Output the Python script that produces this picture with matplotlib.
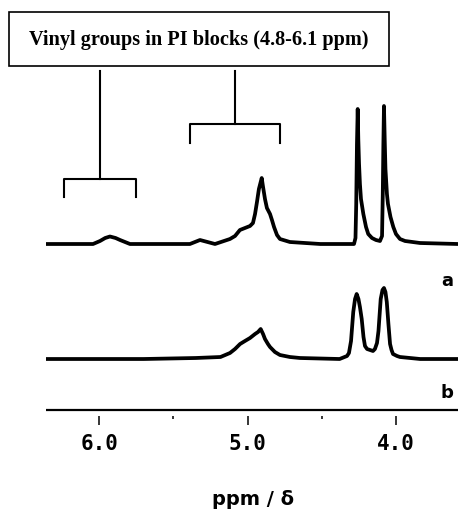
import numpy as np
import matplotlib.pyplot as plt
from matplotlib.patches import Rectangle

# spectrum a (ppm, intensity above baseline)
ppm_a = [6.359, 6.20, 6.042, 5.995, 5.96, 5.928, 5.89, 5.86, 5.793, 5.591,
         5.389, 5.321, 5.22, 5.119, 5.085, 5.052, 5.018, 4.984, 4.964, 4.950,
         4.937, 4.924, 4.905, 4.897, 4.883, 4.870, 4.849, 4.836, 4.822, 4.802,
         4.782, 4.715, 4.51, 4.283, 4.273, 4.268, 4.263, 4.258, 4.254, 4.249,
         4.243, 4.236, 4.220, 4.202, 4.187, 4.162, 4.135, 4.108, 4.094, 4.089,
         4.085, 4.081, 4.076, 4.071, 4.061, 4.054, 4.037, 4.018, 4.000, 3.973,
         3.939, 3.838, 3.582]
int_a = [0, 0, 0, 3, 6, 7.5, 6, 4, 0, 0,
         0, 4, 0, 5, 8, 14, 16, 18, 21, 30,
         42, 55, 66, 58, 45, 36, 30, 24, 17, 9,
         5, 2, 0, 0, 6, 40, 100, 135, 105, 80,
         60, 45, 30, 17, 10, 6, 4, 3, 8, 50,
         100, 138, 105, 75, 50, 40, 27, 17, 10, 5,
         3, 1, 0]

# spectrum b
ppm_b = [6.359, 5.70, 5.35, 5.183, 5.119, 5.085, 5.051, 5.018, 4.984, 4.950,
         4.930, 4.912, 4.896, 4.883, 4.863, 4.849, 4.816, 4.782, 4.715, 4.647,
         4.38, 4.330, 4.317, 4.303, 4.288, 4.276, 4.265, 4.253, 4.243, 4.231,
         4.219, 4.209, 4.195, 4.175, 4.155, 4.142, 4.128, 4.118, 4.103, 4.091,
         4.081, 4.071, 4.062, 4.051, 4.040, 4.030, 4.020, 3.993, 3.973, 3.837,
         3.582]
int_b = [0, 0, 1, 2, 6, 10, 15, 18, 21, 25,
         27, 30, 25, 20, 15, 12, 7, 4, 2, 1,
         0, 3, 6, 18, 47, 60, 65, 60, 52, 40,
         22, 13, 10, 9, 8, 10, 16, 28, 60, 69,
         71, 67, 57, 35, 15, 9, 5, 3, 2, 0,
         0]

# ppm ranges marked by the brackets
bracket_ranges = [(6.238, 5.753), (5.389, 4.782)]
xticks_major = [6.0, 5.0, 4.0]
xticks_minor = [5.5, 4.5]

W, H = 460, 510
fig = plt.figure(figsize=(W / 100, H / 100), dpi=100)
# axes: x from 46 to 458 px, y from 417 px (bottom) to 0 px (top)
ax = fig.add_axes([46 / W, 1 - 417 / H, 412 / W, 417 / H])
ax.set_xlim(6.359, 3.582)
ax.set_ylim(0, 417)

off_a, off_b = 172, 57
ax.plot(ppm_a, np.array(int_a) + off_a, color='black', lw=2.7)
ax.plot(ppm_b, np.array(int_b) + off_b, color='black', lw=2.7)

# axis line sits a few px above the ticks
ax.axhline(6, color='black', lw=1.6)
for s in ax.spines.values():
    s.set_visible(False)
ax.set_yticks([])
ax.set_xticks(xticks_major)
ax.set_xticks(xticks_minor, minor=True)
ax.set_xticklabels(['%.1f' % t for t in xticks_major],
                   family='DejaVu Sans Mono', weight='bold', fontsize=15)
ax.tick_params(axis='x', which='major', direction='out', length=6.5, width=1.1, pad=6)
ax.tick_params(axis='x', which='minor', direction='out', length=2.2, width=1.1)

# brackets
stem_top = 417 - 72
for (x1, x2), hy, leg in zip(bracket_ranges, [417 - 180, 417 - 125], [18, 19]):
    xm = (x1 + x2) / 2
    ax.plot([x1, x1, x2, x2], [hy - leg, hy, hy, hy - leg], color='black', lw=1.5)
    ax.plot([xm, xm], [hy, stem_top], color='black', lw=1.5)

# labels a / b
ax.text(3.656, 417 - 281, 'a', ha='center', va='center', fontsize=13, weight='bold')
ax.text(3.656, 417 - 393, 'b', ha='center', va='center', fontsize=13, weight='bold')

# title box
fig.add_artist(Rectangle((9 / W, 1 - 67 / H), 380 / W, 54 / H, transform=fig.transFigure,
                         fill=False, edgecolor='black', lw=1.2))
fig.text(199 / W, 1 - 40 / H, 'Vinyl groups in PI blocks (4.8-6.1 ppm)',
         ha='center', va='center', family='Liberation Serif', weight='bold', fontsize=14.6)

fig.text(253 / W, 1 - 500 / H, 'ppm / \u03b4', ha='center', va='center',
         weight='bold', fontsize=14)

fig.savefig('out.png', dpi=100)
